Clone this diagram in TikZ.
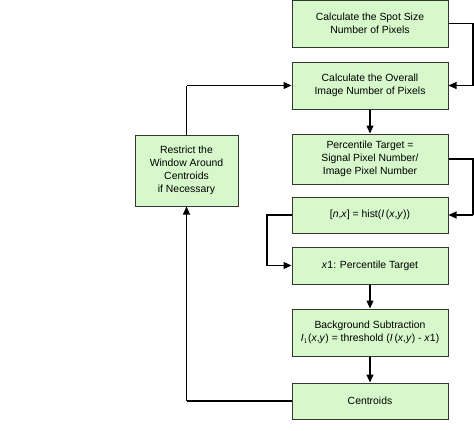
\documentclass[tikz,border=0pt]{standalone}
\usepackage{fontspec}
\setmainfont{Liberation Sans}
\usetikzlibrary{arrows.meta}
\definecolor{boxfill}{RGB}{214,248,202}
\definecolor{boxline}{RGB}{50,55,50}
\begin{document}
\begin{tikzpicture}[x=1pt,y=-1pt,
  stepbox/.style={draw=boxline,fill=boxfill,line width=1pt,align=center,
    font=\fontsize{10.4}{12.8}\selectfont,inner sep=0pt,minimum width=156pt},
  conn/.style={line width=1.1pt,draw=black,-{Triangle[length=8pt,width=7pt]}},
  plain/.style={line width=1.1pt,draw=black}]
\useasboundingbox (0,0) rectangle (474,431);
\node[stepbox,minimum height=47pt] (spot) at (370,23.5) {Calculate the Spot Size\\Number of Pixels};
\node[stepbox,minimum height=47pt] (overall) at (370,85.5) {Calculate the Overall\\Image Number of Pixels};
\node[stepbox,minimum height=50pt] (perc) at (370,159) {Percentile Target =\\Signal Pixel Number/\\Image Pixel Number};
\node[stepbox,minimum height=36pt] (hist) at (370,215) {[\textit{n},\textit{x}] = hist(\textit{I}\,(\textit{x},\textit{y}))};
\node[stepbox,minimum height=37pt] (xone) at (370,265.5) {\textit{x}1: Percentile Target};
\node[stepbox,minimum height=47pt] (bg) at (370,332.5) {Background Subtraction\\\textit{I}$_1$(\textit{x},\textit{y}) = threshold (\textit{I}\,(\textit{x},\textit{y}) - \textit{x}1)};
\node[stepbox,minimum height=36pt] (cent) at (370,401) {Centroids};
\node[stepbox,minimum width=103pt,minimum height=71pt] (restrict) at (186.5,170.5) {Restrict the\\Window Around\\Centroids\\if Necessary};
\coordinate (r1) at (473,23.5);
\coordinate (r2) at (473,85.5);
\coordinate (r3) at (473,159);
\coordinate (r4) at (473,215);
\coordinate (l1) at (267,215);
\coordinate (l2) at (267,265.5);
\coordinate (c1) at (186.5,401);
\coordinate (t1) at (186.5,85.5);
\draw[plain] (spot.east) -- (r1) -- (r2);
\draw[conn] (r2) -- (overall.east);
\draw[conn] (overall) -- (perc);
\draw[plain] (perc.east) -- (r3) -- (r4);
\draw[conn] (r4) -- (hist.east);
\draw[plain] (hist.west) -- (l1) -- (l2);
\draw[conn] (l2) -- (xone.west);
\draw[conn] (xone) -- (bg);
\draw[conn] (bg) -- (cent);
\draw[plain] (cent.west) -- (c1);
\draw[conn] (c1) -- (restrict.south);
\draw[plain] (restrict.north) -- (t1);
\draw[conn] (t1) -- (overall.west);
\end{tikzpicture}
\end{document}
